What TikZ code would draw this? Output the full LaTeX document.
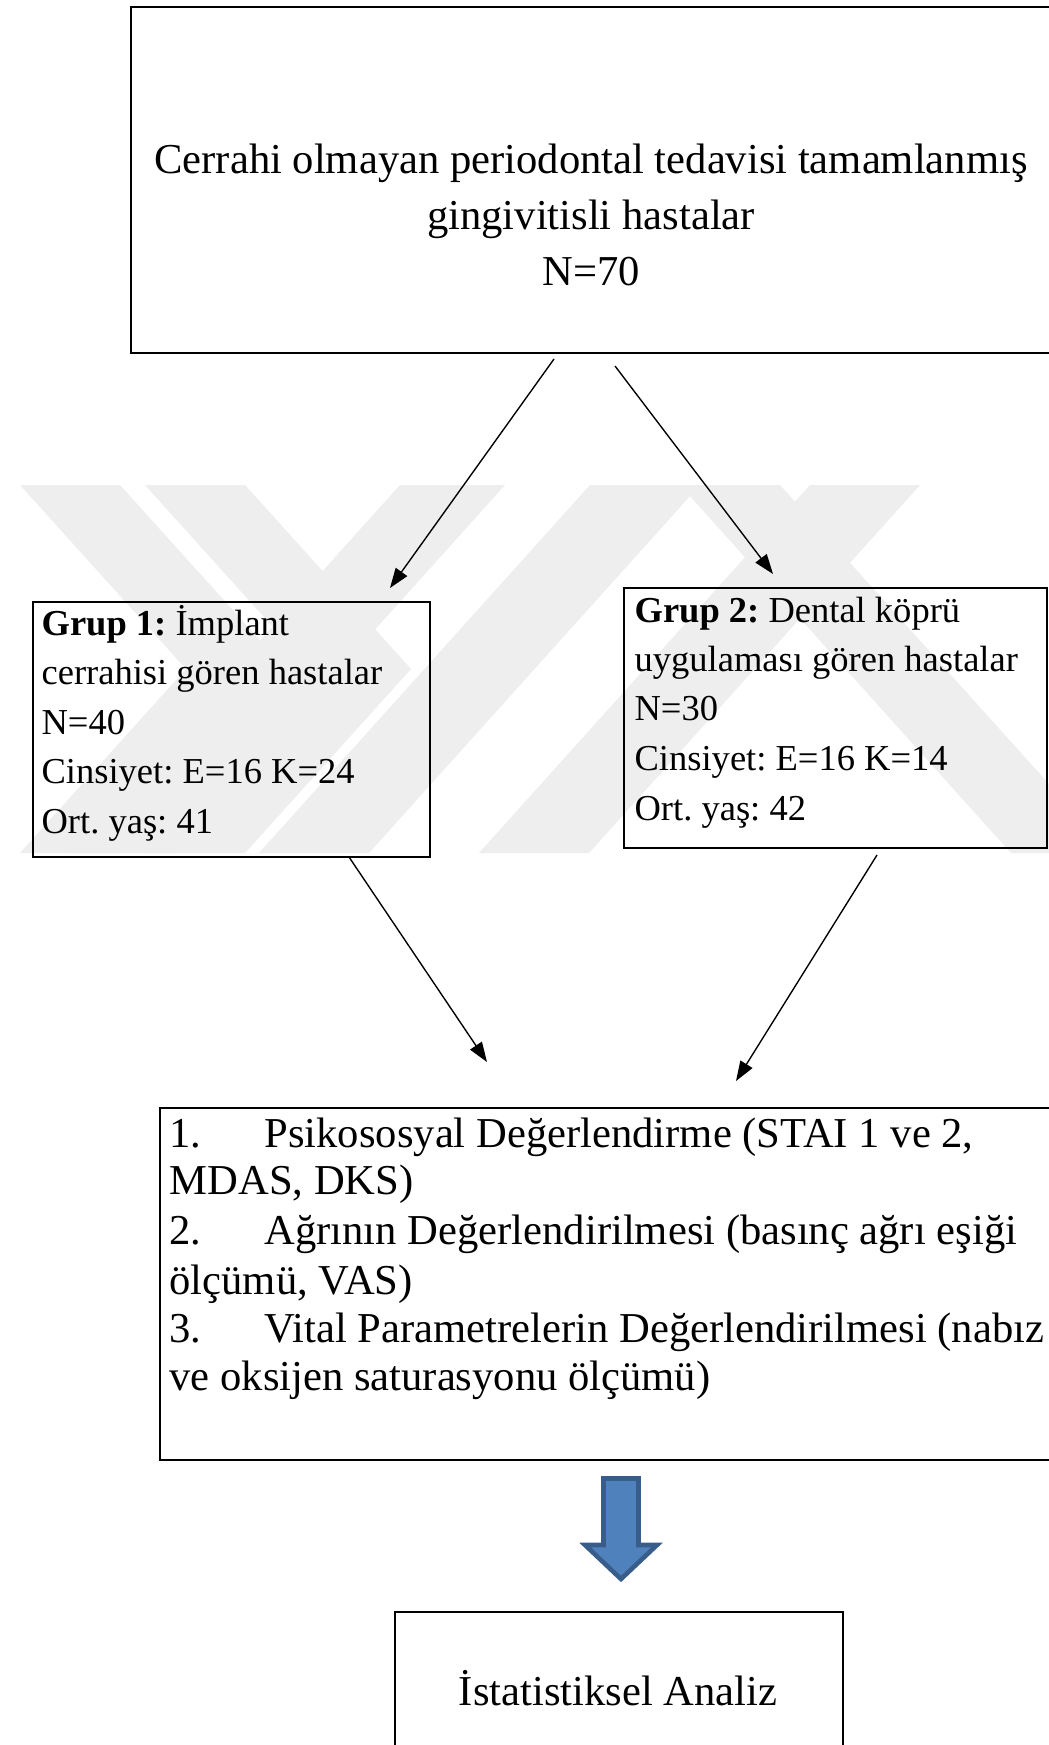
\documentclass[tikz,border=0pt]{standalone}
\usepackage{fontspec}
\setmainfont{Liberation Serif}
\usetikzlibrary{arrows.meta}
\definecolor{wmgray}{RGB}{238,238,238}
\definecolor{bfill}{RGB}{79,129,189}
\definecolor{bline}{RGB}{56,93,138}
\def\pxlen{0.3286pt}
\frenchspacing
\begin{document}
\frenchspacing
\begin{tikzpicture}[x=0.3286pt,y=-0.3286pt,
  box/.style={draw, line width=0.75pt, inner sep=0pt, anchor=north west},
  txt/.style={anchor=base west, inner sep=0pt},
  ctxt/.style={anchor=base, inner sep=0pt},
  big/.style={font=\fontsize{14}{16}\selectfont},
  small/.style={font=\fontsize{12}{14}\selectfont},
  arr/.style={line width=0.45pt, -{Triangle[length=6.5pt,width=4.6pt]}},
  wm/.style={fill=wmgray, draw=none}]
\clip (0,0) rectangle (1049,1745);
\fill[white] (0,0) rectangle (1049,1745);

% faint watermark
\begin{scope}
\clip (0,485) rectangle (1049,853);
\fill[wm] (20,485) -- (120,485) -- (286,669) -- (120,853) -- (20,853) -- (186,669) -- cycle;
\fill[wm] (145,485) -- (245,485) -- (411,669) -- (245,853) -- (145,853) -- (311,669) -- cycle;
\fill[wm] (400,485) -- (505,485) -- (174,853) -- (69,853) -- cycle;
\fill[wm] (590,485) -- (700,485) -- (369,853) -- (259,853) -- cycle;
\fill[wm] (680,485) -- (780,485) -- (1111,853) -- (1011,853) -- cycle;
\fill[wm] (810,485) -- (920,485) -- (589,853) -- (479,853) -- cycle;
\end{scope}

% boxes
\node[box, minimum width=925*\pxlen, minimum height=346*\pxlen] (top) at (130,6) {};
\node[box, minimum width=397*\pxlen, minimum height=255*\pxlen] (g1) at (32,601) {};
\node[box, minimum width=423*\pxlen, minimum height=260*\pxlen] (g2) at (623,587) {};
\node[box, minimum width=896*\pxlen, minimum height=352*\pxlen] (eval) at (159,1107) {};
\node[box, minimum width=448*\pxlen, minimum height=149*\pxlen] (stat) at (394,1611) {};

% top text
\node[ctxt, big] (t1) at (591,173) {Cerrahi olmayan periodontal tedavisi tamamlanmış};
\node[ctxt, big] (t2) at (591,229) {gingivitisli hastalar};
\node[ctxt, big] (t3) at (591,285) {N=70};

% group 1 text
\node[txt, small] (g1a) at (41,635) {\textbf{Grup 1:} İmplant};
\node[txt, small] (g1b) at (41,684) {cerrahisi gören hastalar};
\node[txt, small] (g1c) at (41,734) {N=40};
\node[txt, small] (g1d) at (41,783) {Cinsiyet: E=16 K=24};
\node[txt, small] (g1e) at (41,833) {Ort. yaş: 41};

% group 2 text
\node[txt, small] (g2a) at (634,622) {\textbf{Grup 2:} Dental köprü};
\node[txt, small] (g2b) at (634,671) {uygulaması gören hastalar};
\node[txt, small] (g2c) at (634,720) {N=30};
\node[txt, small] (g2d) at (634,770) {Cinsiyet: E=16 K=14};
\node[txt, small] (g2e) at (634,820) {Ort. yaş: 42};

% evaluation text
\node[txt, big] (e1) at (169,1147) {\makebox[95\dimexpr\pxlen\relax][l]{1.}Psikososyal Değerlendirme (STAI 1 ve 2,};
\node[txt, big] (e2) at (169,1194) {MDAS, DKS)};
\node[txt, big] (e3) at (169,1244) {\makebox[95\dimexpr\pxlen\relax][l]{2.}Ağrının Değerlendirilmesi (basınç ağrı eşiği};
\node[txt, big] (e4) at (169,1294) {ölçümü, VAS)};
\node[txt, big] (e5) at (169,1342) {\makebox[95\dimexpr\pxlen\relax][l]{3.}Vital Parametrelerin Değerlendirilmesi (nabız};
\node[txt, big] (e6) at (169,1390) {ve oksijen saturasyonu ölçümü)};

% statistics text
\node[ctxt, big] (s1) at (618,1705) {İstatistiksel Analiz};

% connectors
\coordinate (a1s) at (554,359);
\coordinate (a1e) at (390,588);
\coordinate (a2s) at (615,366);
\coordinate (a2e) at (773,574);
\coordinate (a3s) at (349,857);
\coordinate (a3e) at (487,1062);
\coordinate (a4s) at (877,855);
\coordinate (a4e) at (736,1081);
\draw[arr] (a1s) -- (a1e);
\draw[arr] (a2s) -- (a2e);
\draw[arr] (a3s) -- (a3e);
\draw[arr] (a4s) -- (a4e);

% block arrow
\filldraw[fill=bfill, draw=bline, line width=1.5pt, line join=miter]
  (603.5,1478.5) -- (638.5,1478.5) -- (638.5,1545) -- (657,1545) -- (621,1579)
  -- (585,1545) -- (603.5,1545) -- cycle;
\end{tikzpicture}
\end{document}
